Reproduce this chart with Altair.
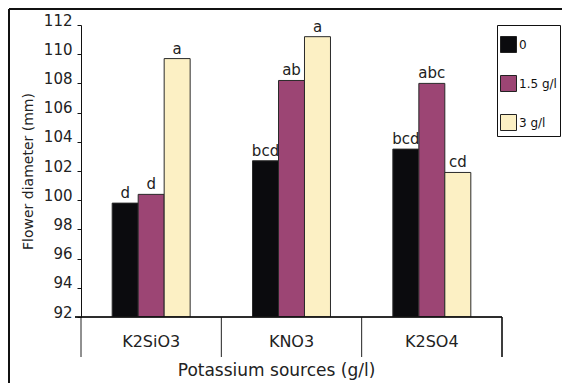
import altair as alt
import pandas as pd

categories = ["K2SiO3", "KNO3", "K2SO4"]
series = ["0", "1.5 g/l", "3 g/l"]
values_0 = [99.8, 102.7, 103.5]
values_15 = [100.4, 108.2, 108.0]
values_3 = [109.7, 111.2, 101.9]
letters_0 = ["d", "bcd", "bcd"]
letters_15 = ["d", "ab", "abc"]
letters_3 = ["a", "a", "cd"]
y_ticks = [92, 94, 96, 98, 100, 102, 104, 106, 108, 110, 112]
colors = ["#0b0b0e", "#9c4574", "#fcf0c4"]

rows = []
for s, vals, lets in [(series[0], values_0, letters_0),
                      (series[1], values_15, letters_15),
                      (series[2], values_3, letters_3)]:
    for c, v, l in zip(categories, vals, lets):
        rows.append({"category": c, "series": s, "value": v, "letter": l})
df = pd.DataFrame(rows)

W, H = 421, 292
FONT = "DejaVu Sans"
off_domain = ["_pad_a"] + series + ["_pad_b"]

x_axis = alt.Axis(title="Potassium sources (g/l)", domain=False, ticks=False,
                  labelAngle=0, labelFontSize=16, labelFont=FONT, labelColor="#222",
                  labelPadding=16, titleFontSize=17, titleFont=FONT,
                  titleFontWeight="normal", titleColor="#222", titlePadding=13,
                  titleX=195, titleAlign="center")
x_enc = alt.X("category:N", sort=categories,
              scale=alt.Scale(paddingInner=0, paddingOuter=0), axis=x_axis)
xoff = alt.XOffset("series:N",
                   scale=alt.Scale(domain=off_domain, paddingInner=0, paddingOuter=0.2))

y_axis = alt.Axis(title="Flower diameter (mm)", values=y_ticks, grid=False,
                  labelOverlap=False, tickCount=11,
                  domainColor="#111", tickColor="#111", tickSize=4,
                  labelPadding=5, labelBaseline="alphabetic", labelFontSize=15,
                  labelFont=FONT, labelColor="#222", titleFontSize=14,
                  titleFont=FONT, titleFontWeight="normal", titleColor="#222",
                  titlePadding=8)
y_enc = alt.Y("value:Q",
              scale=alt.Scale(domain=[92, 112], zero=False, clamp=True), axis=y_axis)

bars = alt.Chart(df).mark_bar(stroke="#2a2a2a", strokeWidth=1, clip=True).encode(
    x=x_enc, xOffset=xoff, y=y_enc, y2=alt.datum(92),
    color=alt.Color("series:N", sort=series,
                    scale=alt.Scale(domain=series, range=colors),
                    legend=alt.Legend(title=" ", titleFontSize=6, titlePadding=2,
                                      orient="none", legendX=416, legendY=0,
                                      symbolType="square", symbolSize=256,
                                      symbolStrokeColor="#222", symbolStrokeWidth=1,
                                      labelFontSize=12, labelFont=FONT, labelColor="#111",
                                      labelOffset=2, rowPadding=18, padding=3,
                                      strokeColor="#111", fillColor="white")),
)

text = alt.Chart(df).mark_text(baseline="alphabetic", dy=-5, fontSize=15, font=FONT,
                               color="#222").encode(
    x=x_enc, xOffset=xoff, y=y_enc, text="letter:N")

sep_df = pd.DataFrame({"category": categories})
seps = alt.Chart(sep_df).mark_rule(color="#222", strokeWidth=1).encode(
    x=alt.X("category:N", sort=categories, bandPosition=0, axis=x_axis),
    y=alt.value(H), y2=alt.value(H + 40))
sep_end = alt.Chart(sep_df).mark_rule(color="#222", strokeWidth=1).encode(
    x=alt.value(W), y=alt.value(H), y2=alt.value(H + 40))
baseline = alt.Chart(sep_df).mark_rule(color="#111", strokeWidth=1).encode(
    x=alt.value(-6), x2=alt.value(W), y=alt.value(H))
frame_left = alt.Chart(sep_df).mark_rule(color="#111", strokeWidth=2).encode(
    x=alt.value(-72), y=alt.value(-16), y2=alt.value(H + 70))
frame_top = alt.Chart(sep_df).mark_rule(color="#111", strokeWidth=2).encode(
    x=alt.value(-72), x2=alt.value(W + 70), y=alt.value(-16))

chart = alt.layer(bars, text, seps, sep_end, baseline, frame_left, frame_top).properties(
    width=W, height=H,
    autosize=alt.AutoSizeParams(type="none"),
    padding={"left": 73, "top": 17, "right": 60, "bottom": 66},
    background="white",
).configure_view(stroke=None)

chart.save("out.html", embed_options={"renderer": "svg", "actions": False})
